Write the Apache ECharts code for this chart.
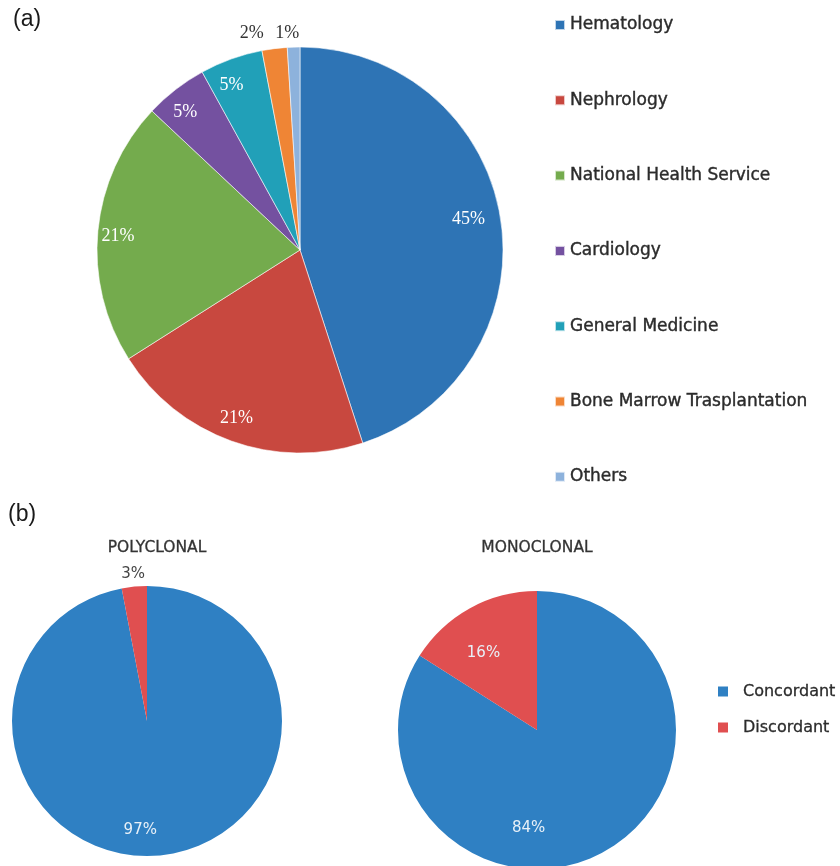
<!DOCTYPE html>
<html>
<head>
<meta charset="utf-8">
<script src="https://cdn.jsdelivr.net/npm/echarts@6/dist/echarts.min.js"></script>
<style>
  html, body { margin: 0; padding: 0; background: #fff; }
  #chart { width: 840px; height: 866px; }
</style>
</head>
<body>
<div id="chart"></div>
<script>
// Requesting departments (panel a)
const deptNames = ['Hematology', 'Nephrology', 'National Health Service', 'Cardiology',
  'General Medicine', 'Bone Marrow Trasplantation', 'Others'];
const deptShares = [45, 21, 21, 5, 5, 2, 1];

// Concordance by clonality (panel b)
const clonalityNames = ['Concordant', 'Discordant'];
const polyclonalShares = [97, 3];
const monoclonalShares = [84, 16];
const panelTitles = ['POLYCLONAL', 'MONOCLONAL'];

const deptColors = ['#2e74b5', '#c8483f', '#74ab4d', '#7451a0', '#21a0b8', '#ef8535', '#8db2dc'];
const clonalityColors = ['#2f80c3', '#e04f50'];

// Pie geometry (pixels)
const pieA = { center: [300, 250], r: 203 };
const pieB1 = { center: [147, 721], r: 135 };
const pieB2 = { center: [537, 730], r: 139 };

// Label placement: radial fraction of the pie radius at the slice mid-angle, plus small nudges
const labelSpecA = {
  factor: [0.84, 0.88, 0.9, 0.89, 0.88, 1.07, 1.07],
  nudge: [[0, -4], [-3, 0], [0, 3], [-4, 5], [-8, 3], [-21, -1], [-6, 0]]
};
const labelSpecB1 = { factor: [0.81, 1.09], nudge: [[-17, 0], [0, 0]] };
const labelSpecB2 = { factor: [0.8, 0.68], nudge: [[-62, 1], [-8, 6]] };

function midAngles(values) {
  const total = values.reduce((a, b) => a + b, 0);
  let acc = 0;
  return values.map(v => {
    const mid = (acc + v / 2) / total * 2 * Math.PI;
    acc += v;
    return mid;
  });
}

function makeLayout(geom, values, spec) {
  const mids = midAngles(values);
  return function (params) {
    const i = params.dataIndex;
    const rr = geom.r * spec.factor[i];
    const n = spec.nudge[i];
    return {
      x: geom.center[0] + rr * Math.sin(mids[i]) + n[0],
      y: geom.center[1] - rr * Math.cos(mids[i]) + n[1],
      align: 'center',
      verticalAlign: 'middle'
    };
  };
}

const deptData = deptNames.map((name, i) => ({
  name: name,
  value: deptShares[i],
  itemStyle: { color: deptColors[i] },
  label: { color: labelSpecA.factor[i] > 1 ? '#333' : '#ffffff' }
}));

function clonalityData(values, spec) {
  return clonalityNames.map((name, i) => ({
    name: name,
    value: values[i],
    itemStyle: { color: clonalityColors[i] },
    label: { color: spec.factor[i] > 1 ? '#444' : '#e8f0f8' }
  }));
}

const chart = echarts.init(document.getElementById('chart'), null, { renderer: 'canvas' });

const option = {
  backgroundColor: '#ffffff',
  animation: false,
  legend: [
    {
      data: deptNames,
      orient: 'vertical',
      left: 549,
      top: 10,
      itemWidth: 10,
      itemHeight: 10,
      itemGap: 55.3,
      icon: 'rect',
      selectedMode: false,
      textStyle: {
        fontFamily: 'DejaVu Sans', fontSize: 17, color: '#2b2b2b', lineHeight: 20,
        textBorderColor: '#2b2b2b', textBorderWidth: 0.4
      }
    },
    {
      data: clonalityNames,
      orient: 'vertical',
      left: 713,
      top: 677,
      itemWidth: 10,
      itemHeight: 10,
      itemGap: 17,
      icon: 'rect',
      selectedMode: false,
      textStyle: {
        fontFamily: 'DejaVu Sans', fontSize: 16, color: '#2b2b2b', lineHeight: 19,
        padding: [0, 0, 0, 10], textBorderColor: '#2b2b2b', textBorderWidth: 0.3
      }
    }
  ],
  graphic: [
    { type: 'text', x: 13, y: 8, style: { text: '(a)', font: '23px "Liberation Sans"', fill: '#1a1a1a' } },
    { type: 'text', x: 8, y: 503, style: { text: '(b)', font: '23px "Liberation Sans"', fill: '#1a1a1a' } },
    { type: 'text', x: 157, y: 548, style: { text: panelTitles[0], font: '15.5px "DejaVu Sans"', fill: '#333', stroke: '#333', lineWidth: 0.3, align: 'center', verticalAlign: 'middle' } },
    { type: 'text', x: 537, y: 548, style: { text: panelTitles[1], font: '15.5px "DejaVu Sans"', fill: '#333', stroke: '#333', lineWidth: 0.3, align: 'center', verticalAlign: 'middle' } }
  ],
  series: [
    {
      type: 'pie',
      center: pieA.center,
      radius: [0, pieA.r],
      startAngle: 90,
      clockwise: true,
      data: deptData,
      itemStyle: { borderColor: 'rgba(255,255,255,0.7)', borderWidth: 0.8 },
      label: { show: true, position: 'inside', formatter: '{c}%', fontFamily: 'Liberation Serif', fontSize: 18 },
      labelLine: { show: false },
      labelLayout: makeLayout(pieA, deptShares, labelSpecA),
      emphasis: { disabled: true }
    },
    {
      type: 'pie',
      center: pieB1.center,
      radius: [0, pieB1.r],
      startAngle: 90,
      clockwise: true,
      data: clonalityData(polyclonalShares, labelSpecB1),
      label: { show: true, position: 'inside', formatter: '{c}%', fontFamily: 'DejaVu Sans', fontSize: 15 },
      labelLine: { show: false },
      labelLayout: makeLayout(pieB1, polyclonalShares, labelSpecB1),
      emphasis: { disabled: true }
    },
    {
      type: 'pie',
      center: pieB2.center,
      radius: [0, pieB2.r],
      startAngle: 90,
      clockwise: true,
      data: clonalityData(monoclonalShares, labelSpecB2),
      label: { show: true, position: 'inside', formatter: '{c}%', fontFamily: 'DejaVu Sans', fontSize: 15 },
      labelLine: { show: false },
      labelLayout: makeLayout(pieB2, monoclonalShares, labelSpecB2),
      emphasis: { disabled: true }
    }
  ]
};

chart.setOption(option);
</script>
</body>
</html>
